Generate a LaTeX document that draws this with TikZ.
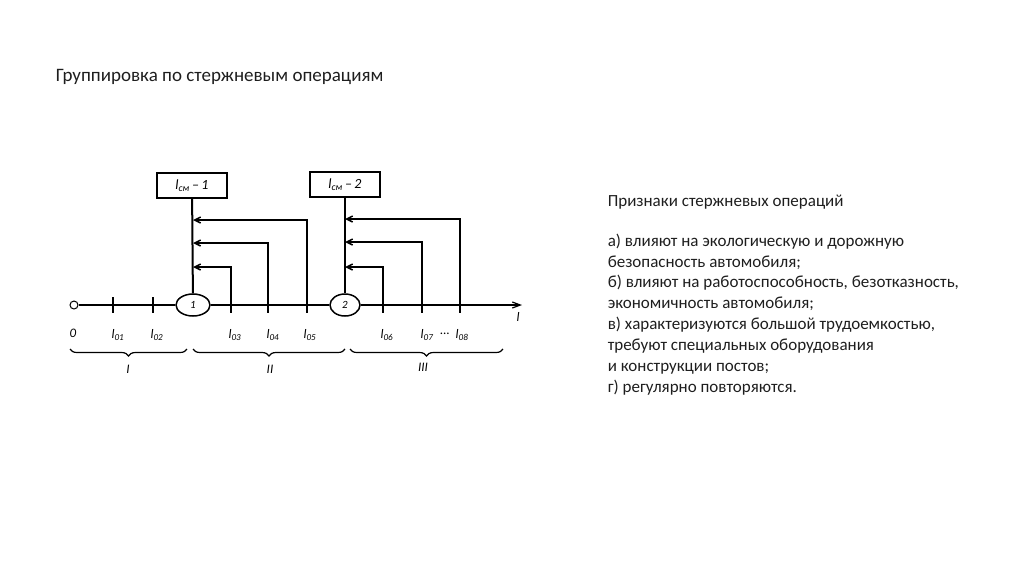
\documentclass[tikz,border=0pt]{standalone}
\usepackage{fontspec}
\setmainfont{Carlito}
\usetikzlibrary{arrows.meta, positioning, shapes.geometric, calc, decorations.pathreplacing}
\definecolor{cink}{HTML}{1E1E1E}
\tikzset{
  every picture/.style={line width=1.5pt, x=1pt, y=-1pt},
  lbl/.style={font=\fontsize{13}{14}\selectfont\itshape, inner sep=1pt},
  post/.style={draw, ellipse, fill=white, minimum width=34, minimum height=22, inner sep=0pt, font=\fontsize{11}{12}\selectfont\itshape},
  stbox/.style={draw, minimum width=70, minimum height=25, inner sep=0pt, font=\fontsize{14}{15}\selectfont\itshape},
  arr/.style={-{Straight Barb[length=6pt, width=6pt]}},
  brc/.style={decorate, decoration={brace, mirror, amplitude=7pt}, line width=1.2pt},
  txt/.style={font=\fontsize{17}{20.9}\selectfont, text=cink, inner sep=0pt, align=left},
}
\begin{document}
\begin{tikzpicture}
  \useasboundingbox (0,0) rectangle (1024,574);
  % title
  \node[txt, font=\fontsize{19}{23}\selectfont, anchor=base west] (title) at (55,81) {Группировка по стержневым операциям};
  % axis
  \node[draw, circle, minimum size=8, inner sep=0pt, line width=1pt] (o) at (74,305) {};
  \node[post] (p1) at (193,305) {1};
  \node[post, minimum width=30] (p2) at (345,305) {2};
  \coordinate (lend) at (522,305);
  \draw (o) -- (p1) -- (p2);
  \draw[-{Straight Barb[length=8pt, width=6pt]}, line width=1.2pt] (p2) -- (lend);
  \node[lbl] (lax) at (518,317) {l};
  \foreach \x/\n in {113/1,153/2,231/3,268/4,307/5,383/6,422/7,460/8}{
    \coordinate (t\n) at (\x,305);
    \draw[line width=1.1pt] (t\n) ++(0,-8) -- ++(0,16);
  }
  % posts
  \node[stbox] (b1) at (192,185.5) {l\textsubscript{см}\,–\,1};
  \node[stbox] (b2) at (345,184.5) {l\textsubscript{см}\,–\,2};
  \draw[line width=2pt] (b1) -- (p1);
  \draw[line width=2pt] (b2) -- (p2);
  \draw[arr] (t5) |- (p1 |- 0,220);
  \draw[arr] (t4) |- (p1 |- 0,243);
  \draw[arr] (t3) |- (p1 |- 0,267);
  \draw[arr] (t8) |- (p2 |- 0,219);
  \draw[arr] (t7) |- (p2 |- 0,242);
  \draw[arr] (t6) |- (p2 |- 0,267);
  % lengths
  \node[lbl] (l0) at (73,333) {0};
  \node[lbl] (l1) at (118,335) {l\textsubscript{01}};
  \node[lbl] (l2) at (157,335) {l\textsubscript{02}};
  \node[lbl] (l3) at (235,335) {l\textsubscript{03}};
  \node[lbl] (l4) at (273,335) {l\textsubscript{04}};
  \node[lbl] (l5) at (310,335) {l\textsubscript{05}};
  \node[lbl] (l6) at (387,335) {l\textsubscript{06}};
  \node[lbl] (l7) at (427,335) {l\textsubscript{07}};
  \node[lbl] (dots) at (445,334) {...};
  \node[lbl] (l8) at (462,335) {l\textsubscript{08}};
  % groups
  \coordinate (g1a) at (70,349);  \coordinate (g1b) at (187,349);
  \coordinate (g2a) at (193,349); \coordinate (g2b) at (345,349);
  \coordinate (g3a) at (350,349); \coordinate (g3b) at (503,349);
  \draw[brc] (g1a) -- (g1b);
  \draw[brc] (g2a) -- (g2b);
  \draw[brc] (g3a) -- (g3b);
  \node[lbl] (gI) at (128,369) {I};
  \node[lbl] (gII) at (270,369) {II};
  \node[lbl] (gIII) at (423,367) {III};
  % signs
  \node[txt, anchor=base west] (head) at (607,206) {Признаки стержневых операций};
  \node[txt, anchor=north west] (list) at (607,233) {а) влияют на экологическую и дорожную\\
    безопасность автомобиля;\\
    б) влияют на работоспособность, безотказность,\\
    экономичность автомобиля;\\
    в) характеризуются большой трудоемкостью,\\
    требуют специальных оборудования\\
    и конструкции постов;\\
    г) регулярно повторяются.};
\end{tikzpicture}
\end{document}
